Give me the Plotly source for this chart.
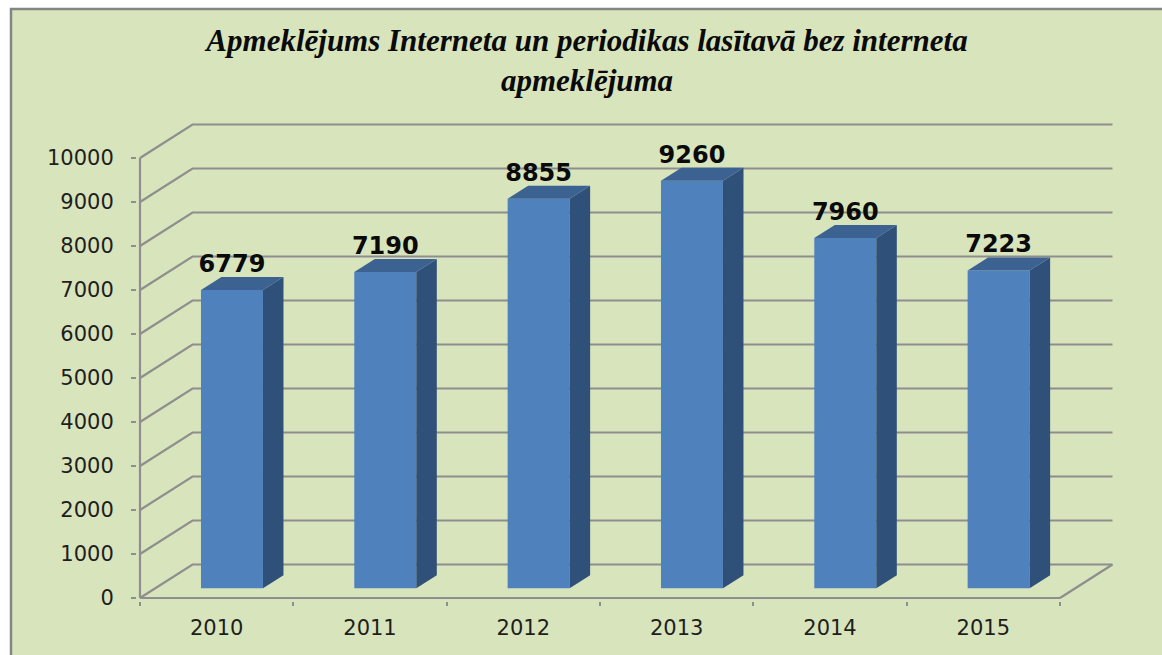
import plotly.graph_objects as go

# ---- data ----
years = ["2010", "2011", "2012", "2013", "2014", "2015"]
visits = [6779, 7190, 8855, 9260, 7960, 7223]
value_ticks = [0, 1000, 2000, 3000, 4000, 5000, 6000, 7000, 8000, 9000, 10000]
title_text = "Apmeklējums Interneta un periodikas lasītavā bez interneta<br>apmeklējuma"

# ---- page geometry (pixels) ----
W, H = 1162, 655
PAD = 3
PLOT_L, PLOT_R, PLOT_T, PLOT_B = 140 - PAD, 1116, 120, 598 + PAD
CAT_PX = 920 / 6
VAL_PX = 0.044
X_RANGE = [-0.5 - PAD / CAT_PX, -0.5 + (PLOT_R - 140) / CAT_PX]
Y_RANGE = [-PAD / VAL_PX, (598 - PLOT_T) / VAL_PX]

# oblique projection in data units
WALL_DX = 52.5 / CAT_PX
WALL_DY = 33.5 / VAL_PX
BAR_DX0 = 15.3 / CAT_PX
BAR_DY0 = 9.7 / VAL_PX
BAR_DX = 20.5 / CAT_PX
BAR_DY = 13 / VAL_PX
BAR_W = 62 / CAT_PX
LABEL_LIFT = 12 / VAL_PX

GRID = "#8E8E8E"
FRONT = "#4F81BD"
SIDE = "#2F5078"
TOP = "#3B6291"
PANEL = "#D8E4BC"

n = len(years)
left, right = -0.5, n - 0.5

# walls and grid lines
gx, gy = [], []
for v in value_ticks:
    gx += [left, left + WALL_DX, right + WALL_DX, None]
    gy += [v, v + WALL_DY, v + WALL_DY, None]
gx += [right, right + WALL_DX, None]
gy += [0, WALL_DY, None]
gx += [left, right, None, left, left]
gy += [0, 0, None, 0, value_ticks[-1]]

fig = go.Figure()
fig.add_trace(go.Scatter(x=gx, y=gy, mode="lines", line=dict(color=GRID, width=2.2),
                         hoverinfo="skip", showlegend=False, xaxis="x", yaxis="y"))

# front faces
centers = [i + BAR_DX0 for i in range(n)]
fig.add_trace(go.Bar(x=centers, y=visits, base=[BAR_DY0] * n, width=BAR_W,
                     marker=dict(color=FRONT, line=dict(width=0)),
                     hoverinfo="skip", showlegend=False, xaxis="x2", yaxis="y2"))

# side and top faces, derived from the values
for c, v in zip(centers, visits):
    xr = c + BAR_W / 2
    xl = c - BAR_W / 2
    t = v + BAR_DY0
    fig.add_trace(go.Scatter(
        x=[xr, xr + BAR_DX, xr + BAR_DX, xr, xr],
        y=[BAR_DY0, BAR_DY0 + BAR_DY, t + BAR_DY, t, BAR_DY0],
        mode="lines", fill="toself", fillcolor=SIDE, line=dict(width=0, color=SIDE),
        hoverinfo="skip", showlegend=False, xaxis="x2", yaxis="y2"))
    fig.add_trace(go.Scatter(
        x=[xl, xr, xr + BAR_DX, xl + BAR_DX, xl],
        y=[t, t, t + BAR_DY, t + BAR_DY, t],
        mode="lines", fill="toself", fillcolor=TOP, line=dict(width=0, color=TOP),
        hoverinfo="skip", showlegend=False, xaxis="x2", yaxis="y2"))

# value labels
fig.add_trace(go.Scatter(
    x=centers, y=[v + BAR_DY0 + LABEL_LIFT for v in visits],
    mode="text", text=[str(v) for v in visits], textposition="top center",
    textfont=dict(family="DejaVu Sans", size=24, color="#0A0A0A", weight="bold"),
    cliponaxis=False, hoverinfo="skip", showlegend=False, xaxis="x2", yaxis="y2"))

tick_font = dict(family="DejaVu Sans", size=21, color="#1E1E1E")

fig.update_layout(
    width=W, height=H,
    margin=dict(l=PLOT_L, r=W - PLOT_R, t=PLOT_T, b=H - PLOT_B, autoexpand=False),
    paper_bgcolor="white", plot_bgcolor="rgba(0,0,0,0)",
    showlegend=False, hovermode=False,
    title=dict(text=title_text, xref="container", yref="container",
               x=587 / W, xanchor="center", y=1 - 51 / H, yanchor="top",
               font=dict(family="Liberation Serif", size=31, color="#0A0A0A",
                         weight="bold", style="italic")),
    xaxis=dict(range=X_RANGE, showgrid=False, zeroline=False, showline=False,
               tickmode="array", tickvals=[i - 0.5 for i in range(n + 1)],
               ticktext=[""] * (n + 1), ticks="outside", ticklen=4, tickwidth=2,
               tickcolor=GRID),
    yaxis=dict(range=Y_RANGE, showgrid=False, zeroline=False, showline=False,
               tickmode="array", tickvals=value_ticks,
               ticktext=[str(v) for v in value_ticks],
               ticks="outside", ticklen=5, tickwidth=2, tickcolor=GRID,
               tickfont=tick_font, ticklabelstandoff=13),
    xaxis2=dict(range=X_RANGE, overlaying="x", side="bottom", showgrid=False,
                zeroline=False, showline=False, tickmode="array",
                tickvals=list(range(n)), ticktext=years, ticks="", tickfont=tick_font,
                ticklabelstandoff=12),
    yaxis2=dict(range=Y_RANGE, overlaying="y", side="left", showgrid=False,
                zeroline=False, showline=False, showticklabels=False, ticks=""),
    shapes=[dict(type="rect", xref="paper", yref="paper", layer="below",
                 x0=(11 - PLOT_L) / (PLOT_R - PLOT_L), x1=(1180 - PLOT_L) / (PLOT_R - PLOT_L),
                 y0=(PLOT_B - 680) / (PLOT_B - PLOT_T), y1=(PLOT_B - 9) / (PLOT_B - PLOT_T),
                 fillcolor=PANEL, line=dict(color="#858585", width=2.5))],
)

fig.write_html("out.html", config={"displayModeBar": False},
               post_script="document.body.style.margin='0';document.documentElement.style.overflow='hidden';")
